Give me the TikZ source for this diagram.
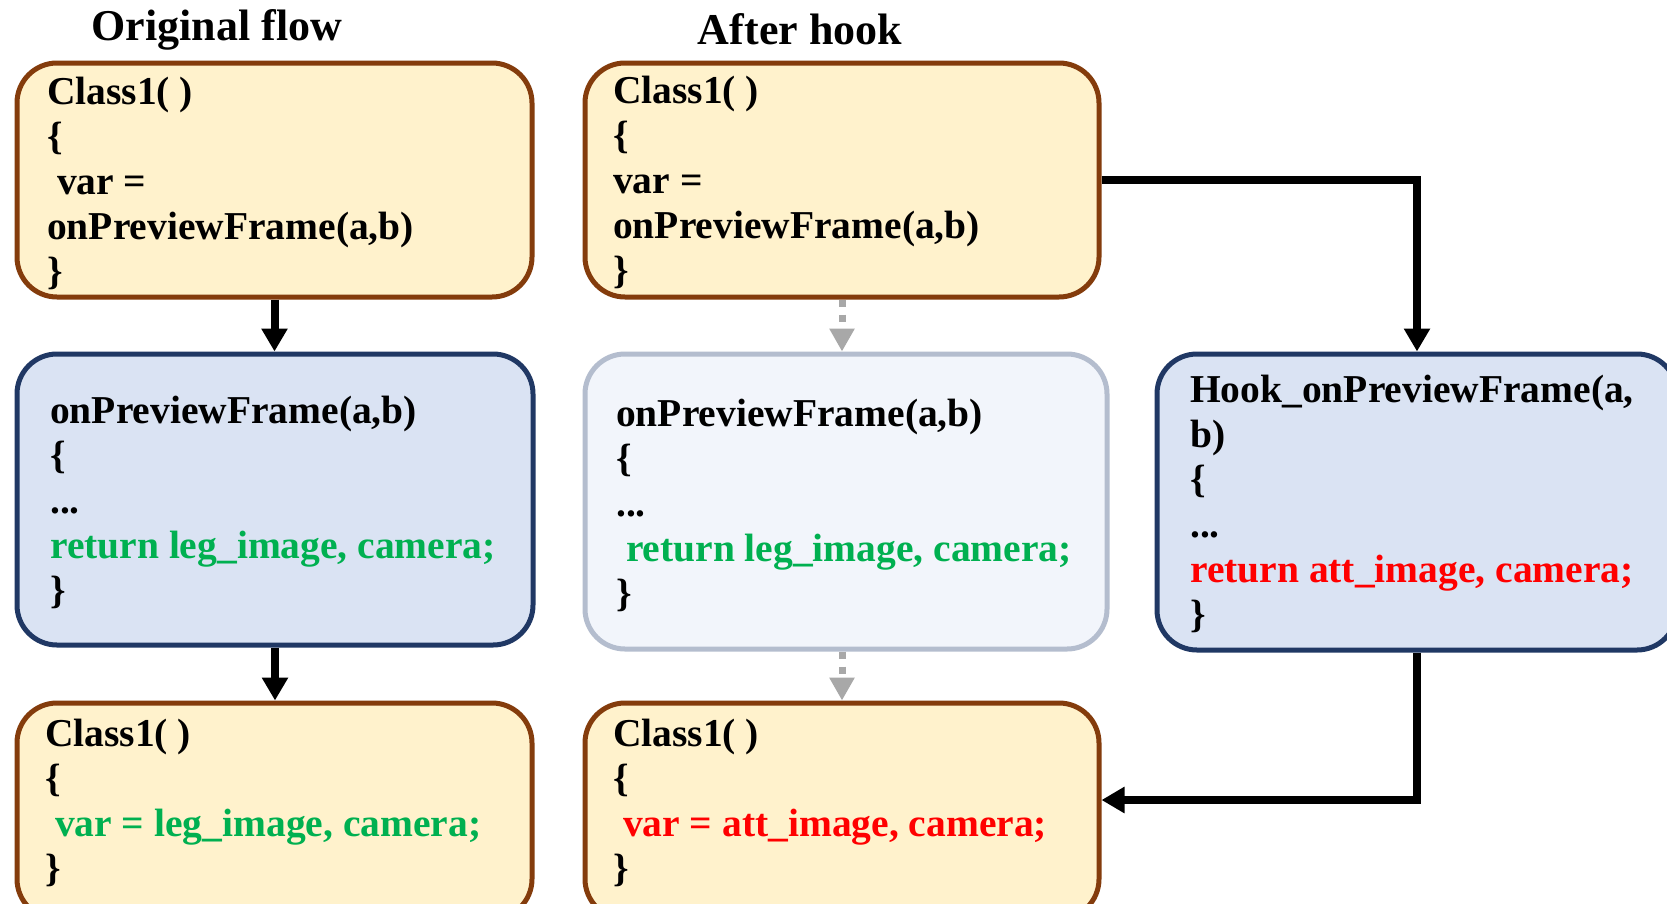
\documentclass[tikz,border=0pt]{standalone}
\usepackage{fontspec}
\setmainfont{Liberation Serif}
\usetikzlibrary{arrows.meta,calc}
\definecolor{yfill}{HTML}{FFF2CC}
\definecolor{ybord}{HTML}{843C0C}
\definecolor{bfill}{HTML}{DAE3F3}
\definecolor{bbord}{HTML}{203864}
\definecolor{lfill}{HTML}{F2F5FB}
\definecolor{lbord}{HTML}{B4BDCE}
\definecolor{cgreen}{HTML}{00B050}
\definecolor{cred}{HTML}{FF0000}
\definecolor{agray}{HTML}{A8A8A8}
\begin{document}
\begin{tikzpicture}[x=1pt,y=-1pt,
  box/.style={rectangle, rounded corners=40pt, line width=5pt, inner sep=0pt},
  ybox/.style={box, draw=ybord, fill=yfill},
  bbox/.style={box, draw=bbord, fill=bfill},
  lbox/.style={box, draw=lbord, fill=lfill},
  code/.style={anchor=west, align=left, inner sep=0pt, font=\fontsize{39.5}{45}\selectfont\bfseries},
  ttl/.style={inner sep=0pt, font=\fontsize{44}{50}\selectfont\bfseries},
  solidarrow/.style={line width=8pt, -{Triangle[width=25pt,length=23pt]}},
  grayarrow/.style={line width=7pt, draw=agray, dash pattern=on 7pt off 8pt, -{Triangle[width=24pt,length=23pt,fill=agray]}}
]
\useasboundingbox (0,0) rectangle (1667,903);
\clip (0,0) rectangle (1667,903);
\fill[white] (0,0) rectangle (1667,903);

\node[ttl] (title1) at (217,30) {Original flow};
\node[ttl] (title2) at (800,29) {After hook};

\node[ybox, minimum width=515pt, minimum height=234pt] (TL1) at (274.5,180) {};
\node[ybox, minimum width=514pt, minimum height=234pt] (TL2) at (842,180) {};
\node[bbox, minimum width=516pt, minimum height=291pt] (M1) at (275,499.5) {};
\node[lbox, minimum width=522pt, minimum height=295pt] (M2) at (846,501.5) {};
\node[bbox, minimum width=520pt, minimum height=296pt] (M3) at (1417,502) {};
\node[ybox, minimum width=515pt, minimum height=216pt] (B1) at (274.5,811) {};
\node[ybox, minimum width=514pt, minimum height=216pt] (B2) at (842,811) {};

\node[code] (t1) at (47,183) {Class1( )\\\{\\\hspace*{0.25em}var =\\onPreviewFrame(a,b)\\\}};
\node[code] (t2) at (613,182) {Class1( )\\\{\\var =\\onPreviewFrame(a,b)\\\}};
\node[code] (t3) at (50,502) {onPreviewFrame(a,b)\\\{\\...\\\textcolor{cgreen}{return leg\_image, camera;}\\\}};
\node[code] (t4) at (616,505) {onPreviewFrame(a,b)\\\{\\...\\\hspace*{0.25em}\textcolor{cgreen}{return leg\_image, camera;}\\\}};
\node[code] (t5) at (1190,504) {Hook\_onPreviewFrame(a,\\b)\\\{\\...\\\textcolor{cred}{return att\_image, camera;}\\\}};
\node[code] (t6) at (45,803) {Class1( )\\\{\\\hspace*{0.25em}\textcolor{cgreen}{var = leg\_image, camera;}\\\}};
\node[code] (t7) at (613,803) {Class1( )\\\{\\\hspace*{0.25em}\textcolor{cred}{var = att\_image, camera;}\\\}};

\draw[solidarrow] (TL1.south) -- (TL1.south |- M1.north);
\draw[solidarrow] (M1.south) -- (M1.south |- B1.north);
\draw[grayarrow] (TL2.south) -- (TL2.south |- M2.north);
\draw[grayarrow] (TL2.south |- M2.south) -- (TL2.south |- B2.north);
\draw[solidarrow] (TL2.east) -| (M3.north);
\coordinate (B2in) at ([yshift=11pt]B2.east);
\draw[solidarrow] (M3.south) |- (B2in);
\end{tikzpicture}
\end{document}
